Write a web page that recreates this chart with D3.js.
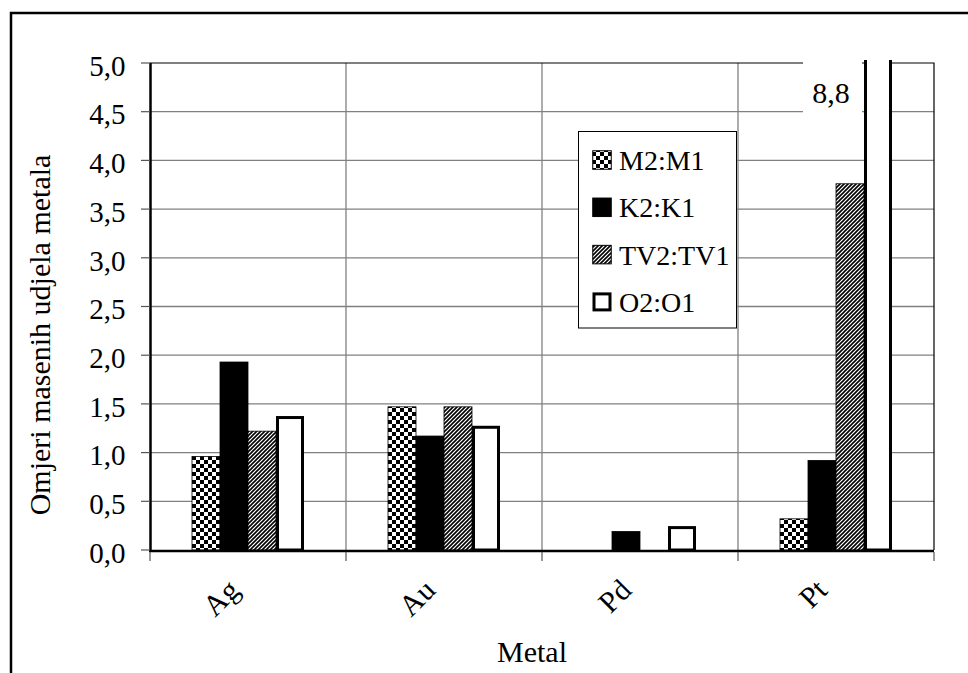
<!DOCTYPE html>
<html>
<head>
<meta charset="utf-8">
<script src="https://cdn.jsdelivr.net/npm/d3@7"></script>
<style>
html,body{margin:0;padding:0;background:#fff;}
svg{display:block;}
</style>
</head>
<body>
<svg id="chart" width="968" height="673"></svg>
<script>
// ---- data ----
const categories = ["Ag", "Au", "Pd", "Pt"];
const seriesNames = ["M2:M1", "K2:K1", "TV2:TV1", "O2:O1"];
const m2m1 = [0.96, 1.47, 0, 0.32];
const k2k1 = [1.93, 1.17, 0.19, 0.92];
const tv2tv1 = [1.22, 1.47, 0, 3.76];
const o2o1 = [1.36, 1.26, 0.23, 8.8];
const yTicks = [0, 0.5, 1, 1.5, 2, 2.5, 3, 3.5, 4, 4.5, 5];
const overflowLabel = "8,8";
const yTitle = "Omjeri masenih udjela metala";
const xTitle = "Metal";

const seriesValues = [m2m1, k2k1, tv2tv1, o2o1];
const FONT = "'Liberation Serif', 'DejaVu Serif', 'Times New Roman', serif";

const svg = d3.select("#chart");
const W = 968, H = 673;
const M = {left: 150, right: 934, top: 63, bottom: 550};

const x = d3.scaleBand().domain(categories).range([M.left, M.right]).paddingInner(0).paddingOuter(0);
const xs = d3.scaleBand().domain(seriesNames).range([0, x.bandwidth()]).paddingInner(0).paddingOuter(1.5);
const y = d3.scaleLinear().domain([0, 5]).range([M.bottom, M.top]);

const fmt = v => d3.format(".1f")(v).replace(".", ",");

// patterns
const defs = svg.append("defs");
const chk = defs.append("pattern").attr("id", "checker").attr("patternUnits", "userSpaceOnUse")
  .attr("width", 8).attr("height", 8);
chk.append("rect").attr("width", 8).attr("height", 8).attr("fill", "#fff");
chk.append("rect").attr("width", 4).attr("height", 4).attr("fill", "#000");
chk.append("rect").attr("x", 4).attr("y", 4).attr("width", 4).attr("height", 4).attr("fill", "#000");

const str = defs.append("pattern").attr("id", "stripes").attr("patternUnits", "userSpaceOnUse")
  .attr("width", 4).attr("height", 4);
str.append("rect").attr("width", 4).attr("height", 4).attr("fill", "#fff");
str.append("path").attr("d", "M-1,1 L1,-1 M0,4 L4,0 M3,5 L5,3")
  .attr("stroke", "#000").attr("stroke-width", 1.6);

defs.append("clipPath").attr("id", "plotclip").append("rect")
  .attr("x", M.left).attr("y", M.top - 3).attr("width", M.right - M.left).attr("height", M.bottom - M.top + 6);

const styles = [
  {fill: "url(#checker)", stroke: "#000", sw: 0.8},
  {fill: "#000", stroke: "#000", sw: 0.8},
  {fill: "url(#stripes)", stroke: "#000", sw: 0.8},
  {fill: "#fff", stroke: "#000", sw: 3}
];

// background
svg.append("rect").attr("width", W).attr("height", H).attr("fill", "#fff");
// outer frame
svg.append("rect").attr("x", 11).attr("y", 13).attr("width", 1000).attr("height", 1000)
  .attr("fill", "none").attr("stroke", "#000").attr("stroke-width", 2.5);

// horizontal gridlines
svg.append("g").selectAll("line").data(yTicks.filter(d => d > 0 && d < 5)).join("line")
  .attr("x1", M.left).attr("x2", M.right)
  .attr("y1", d => y(d)).attr("y2", d => y(d))
  .attr("stroke", "#808080").attr("stroke-width", 1.3);
// vertical gridlines at category boundaries
svg.append("g").selectAll("line").data(categories.slice(1)).join("line")
  .attr("x1", d => x(d)).attr("x2", d => x(d))
  .attr("y1", M.top).attr("y2", M.bottom)
  .attr("stroke", "#808080").attr("stroke-width", 1.3);
// plot area top / right border
svg.append("path")
  .attr("d", `M${M.left},${y(5)} H${M.right} V${M.bottom}`)
  .attr("fill", "none").attr("stroke", "#000").attr("stroke-width", 1.2);

// bars
const barsG = svg.append("g").attr("clip-path", "url(#plotclip)");
seriesNames.forEach((s, si) => {
  const st = styles[si];
  barsG.append("g").selectAll("rect")
    .data(categories.map((c, ci) => ({c, v: seriesValues[si][ci]})).filter(d => d.v > 0))
    .join("rect")
    .attr("x", d => x(d.c) + xs(s) + (si === 3 ? 1.5 : 0))
    .attr("width", xs.bandwidth() - (si === 3 ? 3 : 0))
    .attr("y", d => y(d.v))
    .attr("height", d => y(0) - y(d.v))
    .attr("fill", st.fill).attr("stroke", st.stroke).attr("stroke-width", st.sw);
});

// overflow label for the clipped bar
const ovCat = categories[3];
const ovX = x(ovCat) + xs(seriesNames[3]);
const lab = svg.append("g");
lab.append("rect").attr("x", ovX - 61).attr("y", y(5) - 4).attr("width", 59).attr("height", 57).attr("fill", "#fff");
lab.append("text").attr("x", ovX - 33).attr("y", y(5) + 40).attr("text-anchor", "middle")
  .attr("font-family", FONT).attr("font-size", 30).text(overflowLabel);

// axes lines
svg.append("line").attr("x1", M.left - 1).attr("x2", M.right).attr("y1", y(0) + 1).attr("y2", y(0) + 1)
  .attr("stroke", "#000").attr("stroke-width", 2.5);
svg.append("line").attr("x1", M.left + 0.5).attr("x2", M.left + 0.5).attr("y1", y(5)).attr("y2", y(0) + 2)
  .attr("stroke", "#000").attr("stroke-width", 2.5);

// y ticks and labels
const yt = svg.append("g");
yt.selectAll("line").data(yTicks).join("line")
  .attr("x1", M.left - 9).attr("x2", M.left).attr("y1", d => y(d)).attr("y2", d => y(d))
  .attr("stroke", "#555").attr("stroke-width", 1.2);
yt.selectAll("text").data(yTicks).join("text")
  .attr("x", 125.5).attr("y", d => y(d)).attr("dy", "0.44em")
  .attr("font-family", FONT)
  .attr("text-anchor", "end").attr("font-size", 29).text(d => fmt(d));

// x ticks at category boundaries
const bounds = categories.map(c => x(c)).concat([x(categories[3]) + x.bandwidth()]);
svg.append("g").selectAll("line").data(bounds).join("line")
  .attr("x1", d => d).attr("x2", d => d).attr("y1", y(0) + 2).attr("y2", y(0) + 11)
  .attr("stroke", "#555").attr("stroke-width", 1.2);

// x labels rotated
svg.append("g").selectAll("text").data(categories).join("text")
  .attr("transform", d => `translate(${x(d) + x.bandwidth() / 2 - 7},${592}) rotate(-45)`)
  .attr("font-family", FONT)
  .attr("text-anchor", "end").attr("font-size", 30).text(d => d);

// axis titles
svg.append("text").attr("x", 532).attr("y", 662).attr("text-anchor", "middle")
  .attr("font-family", FONT).attr("font-size", 30).text(xTitle);
svg.append("text").attr("transform", "translate(50,335) rotate(-90)")
  .attr("font-family", FONT)
  .attr("text-anchor", "middle").attr("font-size", 30).text(yTitle);

// legend
const lg = svg.append("g");
lg.append("rect").attr("x", 578.5).attr("y", 131.5).attr("width", 158).attr("height", 196.5)
  .attr("fill", "#fff").attr("stroke", "#000").attr("stroke-width", 1);
seriesNames.forEach((s, i) => {
  const cy = 160 + i * 47.3;
  const st = styles[i];
  const sz = i === 3 ? 16 : 18.5;
  lg.append("rect").attr("x", 602 - sz / 2).attr("y", cy - sz / 2).attr("width", sz).attr("height", sz)
    .attr("fill", st.fill).attr("stroke", "#000").attr("stroke-width", i === 3 ? 3 : 1);
  lg.append("text").attr("x", 619).attr("y", cy + 10)
    .attr("font-family", FONT).attr("font-size", 28).text(s);
});
</script>
</body>
</html>
